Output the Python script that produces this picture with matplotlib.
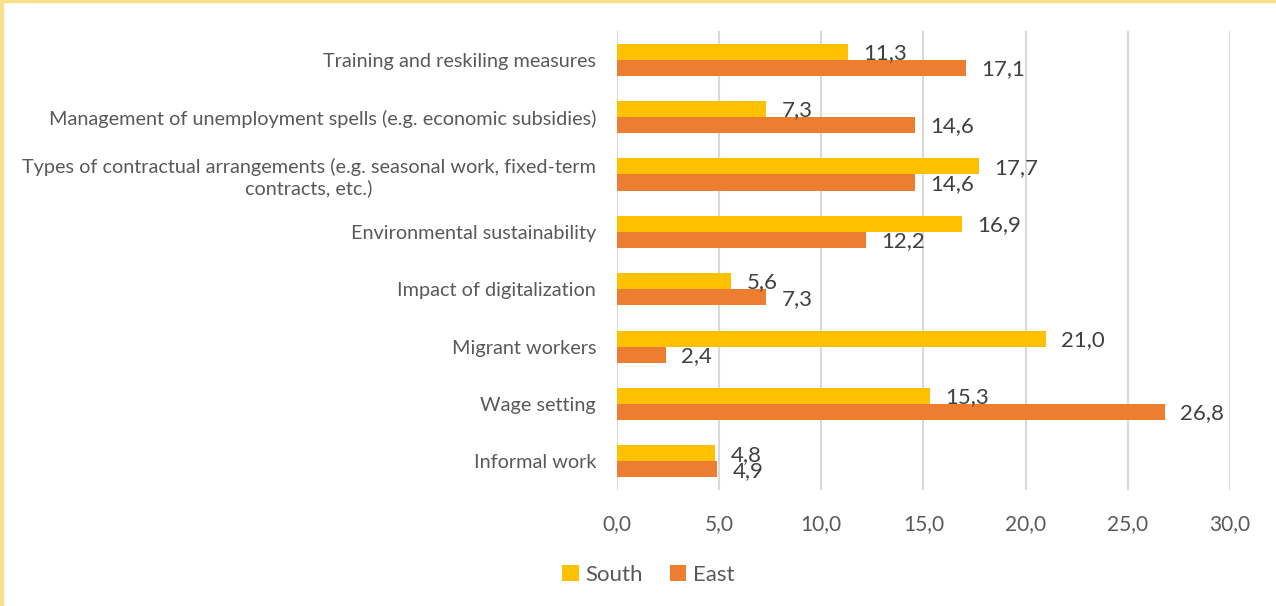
import matplotlib.pyplot as plt
import numpy as np

plt.rcParams['font.family'] = ['Lato', 'DejaVu Sans']

categories = [
    "Training and reskiling measures",
    "Management of unemployment spells (e.g. economic subsidies)",
    "Types of contractual arrangements (e.g. seasonal work, fixed-term\ncontracts, etc.)",
    "Environmental sustainability",
    "Impact of digitalization",
    "Migrant workers",
    "Wage setting",
    "Informal work",
]
south = [11.3, 7.3, 17.7, 16.9, 5.6, 21.0, 15.3, 4.8]
east = [17.1, 14.6, 14.6, 12.2, 7.3, 2.4, 26.8, 4.9]
x_ticks = [0, 5, 10, 15, 20, 25, 30]

fig = plt.figure(figsize=(12.76, 6.06), dpi=100)
ax = fig.add_axes([0.4835, 0.1914, 0.4804, 0.7574])

y = np.arange(len(categories))
h = 0.28
b1 = ax.barh(y - h / 2, south, height=h, color="#ffc000", label="South", zorder=3)
b2 = ax.barh(y + h / 2, east, height=h, color="#ed7d31", label="East", zorder=3)

for bars, vals in ((b1, south), (b2, east)):
    for bar, v in zip(bars, vals):
        ax.annotate(f"{v:.1f}".replace(".", ","),
                    (bar.get_width(), bar.get_y() + bar.get_height() / 2),
                    xytext=(11, -1), textcoords="offset points",
                    ha="left", va="center", fontsize=16, color="#404040")

ax.set_ylim(len(categories) - 0.5, -0.5)
ax.set_xlim(0, 30)
ax.set_xticks(x_ticks)
ax.set_xticklabels([f"{t:.1f}".replace(".", ",") for t in x_ticks])
ax.set_yticks(y)
ax.set_yticklabels(categories, multialignment="center")
ax.tick_params(axis="x", length=0, pad=17, labelsize=15, labelcolor="#595959")
ax.tick_params(axis="y", length=0, pad=15, labelsize=14.3, labelcolor="#595959")
ax.grid(axis="x", color="#d9d9d9", linewidth=1.5, zorder=0)
for s in ax.spines.values():
    s.set_visible(False)

fig.legend(handles=[b1, b2], loc="center", bbox_to_anchor=(0.508, 0.051),
           ncol=2, frameon=False, fontsize=16, handlelength=0.75,
           handleheight=0.75, handletextpad=0.3, columnspacing=1.2,
           labelcolor="#595959")

# thin yellow frame on the top and left edges
fig.add_artist(plt.Line2D([0.0012, 0.0012], [0, 1], color="#f9e08a", linewidth=3,
                          transform=fig.transFigure))
fig.add_artist(plt.Line2D([0, 1], [0.998, 0.998], color="#f9e08a", linewidth=2.5,
                          transform=fig.transFigure))

fig.savefig("out.png", dpi=100)
